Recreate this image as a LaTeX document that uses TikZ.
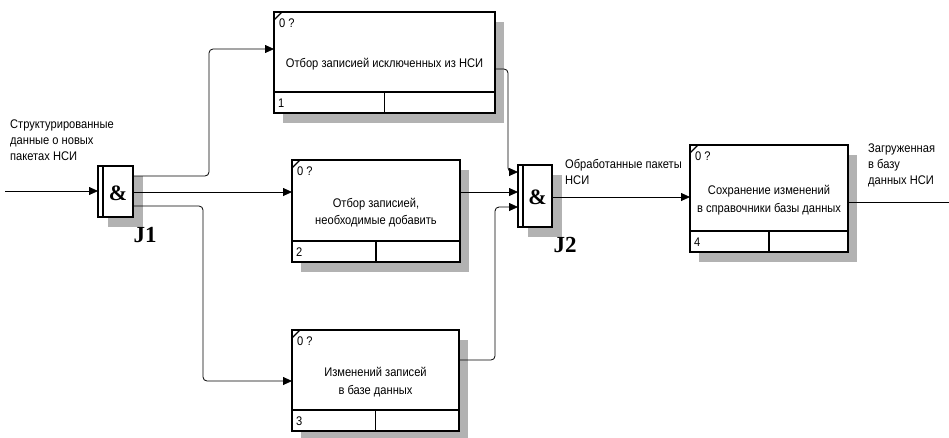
\documentclass[tikz,border=0pt]{standalone}
\usepackage{fontspec}
\setmainfont{Liberation Sans}[FakeStretch=0.89]
\newfontfamily\jfont{Liberation Serif}
\usetikzlibrary{arrows.meta,calc}

\tikzset{
  boxshadow/.style={fill=black!30},
  actframe/.style={draw, fill=white, line width=1.6pt, inner sep=0pt, outer sep=0pt},
  jframe/.style={draw, fill=white, line width=1.5pt, inner sep=0pt, outer sep=0pt},
  cellline/.style={line width=1.4pt},
  flow/.style={draw, line width=0.8pt, rounded corners=4pt, -{Triangle[length=9pt,width=8pt]}},
  plainflow/.style={draw, line width=0.8pt},
  labeltext/.style={font=\fontsize{12.5}{17.5}\selectfont, align=center, inner sep=0pt},
  smalltext/.style={font=\fontsize{12.5}{14}\selectfont, inner sep=0pt},
  notetext/.style={font=\fontsize{12.5}{16}\selectfont, align=left, inner sep=0pt, anchor=north west},
  ampsign/.style={font=\jfont\bfseries\fontsize{22}{22}\selectfont, inner sep=0pt},
  jlabel/.style={font=\jfont\bfseries\fontsize{23}{23}\selectfont, inner sep=0pt}
}

% activity box: name, left, top, right, bottom, number, label
\newcommand\actbox[7]{%
  \fill[boxshadow] ({#2+9},{#3+10}) rectangle ({#4+9},{#5+10});
  \node[actframe, minimum width={#4-#2}, minimum height={#5-#3}] (#1) at ({(#2+#4)/2},{(#3+#5)/2}) {};
  \draw[cellline] ($(#1.south west)+(0,-21)$) -- ($(#1.south east)+(0,-21)$);
  \draw[cellline] (#1.south) -- ($(#1.south)+(0,-21)$);
  \draw[line width=1.2pt] ($(#1.north west)+(0,8)$) -- ($(#1.north west)+(8,0)$);
  \node[smalltext, anchor=west] at ($(#1.north west)+(5,11)$) {0 ?};
  \node[smalltext, anchor=west] at ($(#1.south west)+(4,-10)$) {#6};
  \node[labeltext] at ($(#1.center)+(0,1.5)$) {#7};
}

% junction box: name, left, top, right, bottom
\newcommand\jbox[5]{%
  \fill[boxshadow] ({#2+10},{#3+10}) rectangle ({#4+10},{#5+10});
  \node[jframe, minimum width={#4-#2}, minimum height={#5-#3}] (#1) at ({(#2+#4)/2},{(#3+#5)/2}) {};
  \draw[line width=1.2pt] ($(#1.north west)+(5,0)$) -- ($(#1.south west)+(5,0)$);
  \node[ampsign] at ($(#1.center)+(2.5,1.5)$) {\&};
}

\begin{document}
\begin{tikzpicture}[x=1pt,y=-1pt]
\useasboundingbox (0,0) rectangle (949,437);

% activities
\actbox{b1}{274}{12}{495}{113}{1}{Отбор записией исключенных из НСИ}
\actbox{b2}{292}{160}{460}{262}{2}{Отбор записией,\\необходимые добавить}
\actbox{b3}{292}{330}{459}{431}{3}{Изменений записей\\в базе данных}
\actbox{b4}{690}{145}{848}{252}{4}{Сохранение изменений\\в справочники базы данных}

% junctions
\jbox{j1}{98}{166}{133}{217}
\jbox{j2}{518}{165}{552}{227}
\node[jlabel] (j1lab) at (145,235) {J1};
\node[jlabel] (j2lab) at (565,245) {J2};

% free ends
\coordinate (inp) at (5,191);
\coordinate (outp) at (949,202);

% connectors
\draw[flow] (inp) -- (j1.west |- inp);
\draw[flow] (j1.east |- 0,176) -- (209,176) -- (209,49) -- (b1.west |- 0,49);
\draw[flow] (j1.east |- 0,192) -- (b2.west |- 0,192);
\draw[flow] (j1.east |- 0,206) -- (203,206) -- (203,381) -- (b3.west |- 0,381);
\draw[flow] (b1.east |- 0,69) -- (508,69) -- (508,172) -- (j2.west |- 0,172);
\draw[flow] (b2.east |- 0,192) -- (j2.west |- 0,192);
\draw[flow] (b3.east |- 0,360) -- (495,360) -- (495,207) -- (j2.west |- 0,207);
\draw[flow] (j2.east |- 0,197) -- (b4.west |- 0,197);
\draw[plainflow] (b4.east |- 0,202) -- (outp);

% arrow labels
\node[notetext] (inlab) at (10,120) {Структурированные\\данные о новых\\пакетах НСИ};
\node[notetext] (midlab) at (565,159) {Обработанные пакеты\\НСИ};
\node[notetext] (outlab) at (868,144) {Загруженная\\в базу\\данных НСИ};
\end{tikzpicture}
\end{document}
